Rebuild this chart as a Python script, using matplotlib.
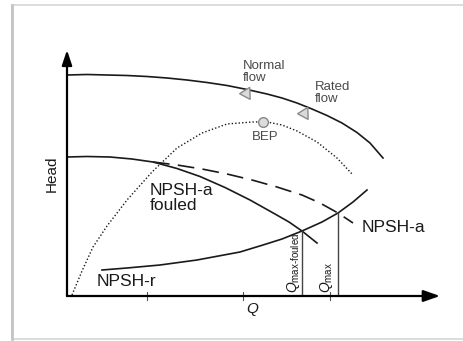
import numpy as np
import matplotlib
matplotlib.use('Agg')
import matplotlib.pyplot as plt
from matplotlib.patches import Rectangle

plt.rcParams['font.family'] = ['Liberation Sans', 'DejaVu Sans']
plt.rcParams['mathtext.fontset'] = 'custom'
plt.rcParams['mathtext.rm'] = 'Liberation Sans'
plt.rcParams['mathtext.it'] = 'Liberation Sans:italic'

# pump head curve
head_q = [0, 20, 40, 60, 80, 100, 120, 140, 160, 180, 200, 215, 230, 245, 260, 275, 290, 303, 316]
head_h = [221, 221.5, 221, 220.5, 219.5, 218, 216, 213.5, 210.5, 206.5, 202, 198, 193, 187,
          180.5, 173, 163.5, 153, 138]

# efficiency (dotted)
eff_q = [5, 15, 26, 40, 60, 85, 110, 135, 160, 185, 200, 215, 230, 250, 270, 286]
eff_h = [1, 25, 49, 70, 96, 124, 148, 163, 172, 174, 174, 171, 165, 154, 138, 121]
bep_q, bep_h = 196, 174

# NPSH available, fouled (solid)
fouled_q = [0, 20, 43, 65, 86, 110, 133, 158, 183, 208, 222, 235, 250]
fouled_h = [139, 139.5, 139, 137, 134, 127.5, 119.5, 108.5, 96, 82, 74, 65, 53]

# NPSH available, clean (dashed)
npsha_q = [86, 110, 135, 160, 185, 210, 235, 253, 271, 286]
npsha_h = [134, 131, 127, 122, 116, 109, 101, 93, 83, 73]

# NPSH required
npshr_q = [35, 60, 93, 130, 173, 196, 215, 235, 255, 271, 286, 300]
npshr_h = [26, 28, 31, 36, 44, 51, 57, 65, 74, 83, 94, 106]

q_max_fouled, h_max_fouled = 235, 65
q_max, h_max = 271, 83

tick_q = [80, 176, 263]
flow_marks_q = [179, 237]
flow_marks_h = [203, 183]

W, H = 464, 341
fig = plt.figure(figsize=(W / 100, H / 100), dpi=100)
fig.patch.set_facecolor('white')

# picture frame
fig.add_artist(Rectangle((12 / W, 2 / H), 460 / W, 334 / H, transform=fig.transFigure,
                         fill=False, edgecolor='#d6d6d6', lw=1.2))
fig.add_artist(plt.Line2D([12 / W, 12 / W], [2 / H, 336 / H], transform=fig.transFigure,
                          color='#c4c4c4', lw=2))

ax = fig.add_axes([67 / W, 45 / H, 373 / W, 246 / H])
ax.set_xlim(0, 373)
ax.set_ylim(0, 246)
ax.axis('off')

ink = '#1a1a1a'
ax.plot(head_q, head_h, color=ink, lw=1.2)
ax.plot(eff_q, eff_h, color=ink, lw=1.0, linestyle=(0, (1, 1.5)))
ax.plot(fouled_q, fouled_h, color=ink, lw=1.2)
ax.plot(npsha_q, npsha_h, color=ink, lw=1.2, linestyle=(0, (10, 5)))
ax.plot(npshr_q, npshr_h, color=ink, lw=1.2)
ax.plot([q_max_fouled, q_max_fouled], [0, h_max_fouled], color='#444444', lw=1.0)
ax.plot([q_max, q_max], [0, h_max], color='#444444', lw=1.0)

ax.plot(bep_q, bep_h, 'o', ms=7, mfc='#dcdcdc', mec='#888888', mew=1.0)
ax.plot(flow_marks_q, flow_marks_h, linestyle='none', marker=(3, 0, 92), ms=10,
        mfc='#dadada', mec='#8a8a8a', mew=1.0)

# axes with arrows
ax.annotate('', xy=(373, 0), xytext=(0, 0), annotation_clip=False,
            arrowprops=dict(arrowstyle='-|>,head_length=1.0,head_width=0.35',
                            color='black', lw=1.6, shrinkA=0, shrinkB=0))
ax.annotate('', xy=(0, 246), xytext=(0, 0), annotation_clip=False,
            arrowprops=dict(arrowstyle='-|>,head_length=0.9,head_width=0.3',
                            color='black', lw=1.6, shrinkA=0, shrinkB=0))
for t in tick_q:
    ax.plot([t, t], [-4, 4], color='#555555', lw=0.8, clip_on=False)

grey = '#4a4a4a'
ax.text(176, 236, 'Normal\nflow', ha='left', va='top', fontsize=9.5, color=grey, linespacing=0.95)
ax.text(248, 215, 'Rated\nflow', ha='left', va='top', fontsize=9.5, color=grey, linespacing=0.95)
ax.text(bep_q + 2, 159, 'BEP', ha='center', va='center', fontsize=9.5, color=grey)
ax.text(83, 113, 'NPSH-a\nfouled', ha='left', va='top', fontsize=12.5, color=ink, linespacing=1.0)
ax.text(295, 69, 'NPSH-a', ha='left', va='center', fontsize=12.5, color=ink)
ax.text(30, 14, 'NPSH-r', ha='left', va='center', fontsize=12.5, color=ink)
ax.text(-15, 122, 'Head', ha='center', va='center', rotation=90, fontsize=11, color=ink, clip_on=False)
ax.text(186, -13, '$Q$', ha='center', va='center', fontsize=11, color=ink, clip_on=False)
ax.text(q_max_fouled - 8, 3, r'$Q_{\mathrm{max‐fouled}}$', ha='center', va='bottom',
        rotation=90, fontsize=10, color=ink)
ax.text(q_max - 11, 3, r'$Q_{\mathrm{max}}$', ha='center', va='bottom',
        rotation=90, fontsize=10, color=ink)

fig.savefig('out.png', dpi=100)
